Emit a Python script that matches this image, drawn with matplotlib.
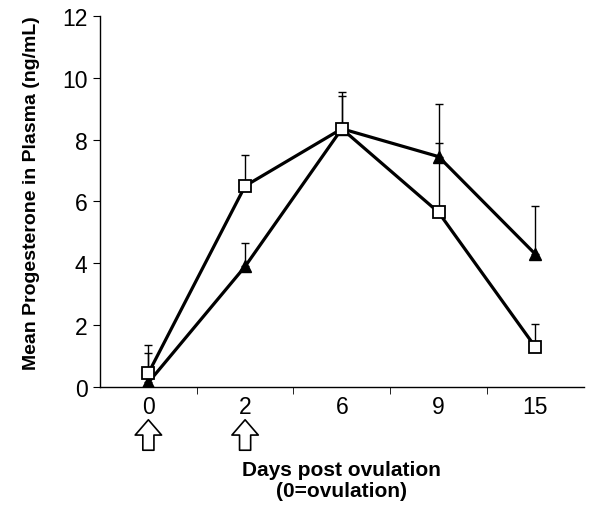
import numpy as np
import matplotlib.pyplot as plt

plt.rcParams['font.family'] = ['Liberation Sans', 'DejaVu Sans']

days = ["0", "2", "6", "9", "15"]
square_mean = [0.45, 6.5, 8.35, 5.65, 1.3]
square_err = [0.9, 1.0, 1.2, 2.25, 0.75]
tri_mean = [0.15, 3.9, 8.35, 7.45, 4.3]
tri_err = [0.95, 0.75, 1.05, 1.7, 1.55]
arrow_days = ["0", "2"]

x = np.arange(len(days))

fig = plt.figure(figsize=(6, 5.1), dpi=100)
ax = fig.add_axes([0.1667, 0.239, 0.806, 0.728])

ax.errorbar(x, square_mean, yerr=[np.zeros(len(x)), square_err], fmt='none',
            ecolor='black', elinewidth=1.0, capsize=3, capthick=1.0, zorder=2)
ax.errorbar(x, tri_mean, yerr=[np.zeros(len(x)), tri_err], fmt='none',
            ecolor='black', elinewidth=1.0, capsize=3, capthick=1.0, zorder=2)

ax.plot(x, square_mean, color='black', lw=2.3, marker='s', markersize=8,
        markerfacecolor='white', markeredgecolor='black', markeredgewidth=1.3, zorder=4)
ax.plot(x, tri_mean, color='black', lw=2.3, marker='^', markersize=9,
        markerfacecolor='black', markeredgecolor='black', zorder=3)

ax.set_xlim(-0.5, len(days) - 0.5)
ax.set_ylim(0, 12)
ax.set_yticks(range(0, 13, 2))
ax.set_xticks(x)
ax.set_xticklabels(days)
ax.set_xticks(np.arange(0.5, len(days) - 0.5, 1), minor=True)
ax.tick_params(axis='x', which='major', length=0, labelsize=16.5, pad=6)
ax.tick_params(axis='x', which='minor', length=5, direction='out')
ax.tick_params(axis='y', length=5, direction='out', labelsize=16.5, pad=4)

for side in ['top', 'right']:
    ax.spines[side].set_visible(False)
for side in ['left', 'bottom']:
    ax.spines[side].set_linewidth(1.0)

ax.set_ylabel("Mean Progesterone in Plasma (ng/mL)", fontsize=14, fontweight='bold')
ax.yaxis.set_label_coords(-0.125, 0.525)
ax.set_xlabel("Days post ovulation\n(0=ovulation)", fontsize=15, fontweight='bold',
              labelpad=30, linespacing=1.15)

for d in arrow_days:
    xi = days.index(d)
    ax.annotate('', xy=(xi, -0.088), xytext=(xi, -0.17),
                xycoords=('data', 'axes fraction'), textcoords=('data', 'axes fraction'),
                arrowprops=dict(arrowstyle='simple,head_length=11,head_width=19,tail_width=8',
                                mutation_scale=1, fc='white', ec='black', lw=1.2,
                                shrinkA=0, shrinkB=0),
                annotation_clip=False)

fig.savefig('out.png', dpi=100)
